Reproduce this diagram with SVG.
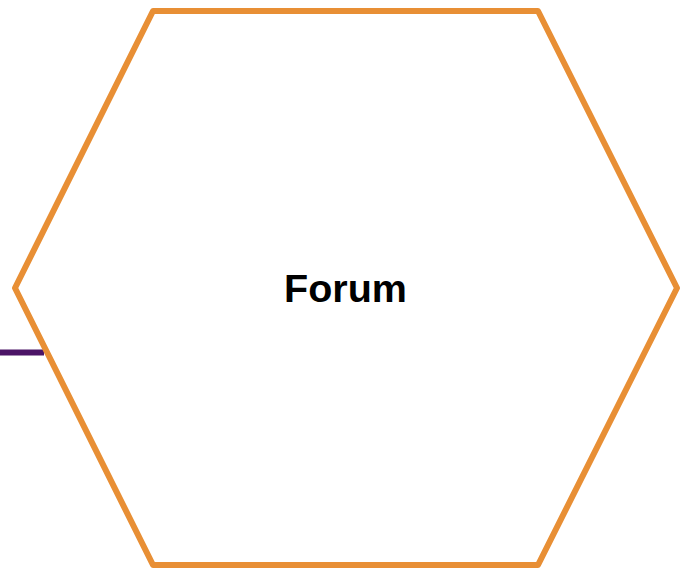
<svg xmlns="http://www.w3.org/2000/svg" width="684" height="569" viewBox="0 0 684 569">
<style>
.hex{fill:#ffffff;stroke:#E88F35;stroke-width:6;stroke-linejoin:round}
.edge{stroke:#4B1466;stroke-width:6;fill:none}
.label{font-family:"Liberation Sans",Arial,sans-serif;font-weight:bold;font-size:39.5px;fill:#000000}
</style>
<rect width="684" height="569" fill="#ffffff"/>
<g id="connectors">
<line class="edge" x1="0" y1="352.5" x2="44" y2="352.5"/>
</g>
<g id="forum">
<polygon class="hex" points="153,11 538,11 677,288 538,565 153,565 15,288"/>
<text class="label" x="345.5" y="302" text-anchor="middle">Forum</text>
</g>
</svg>
